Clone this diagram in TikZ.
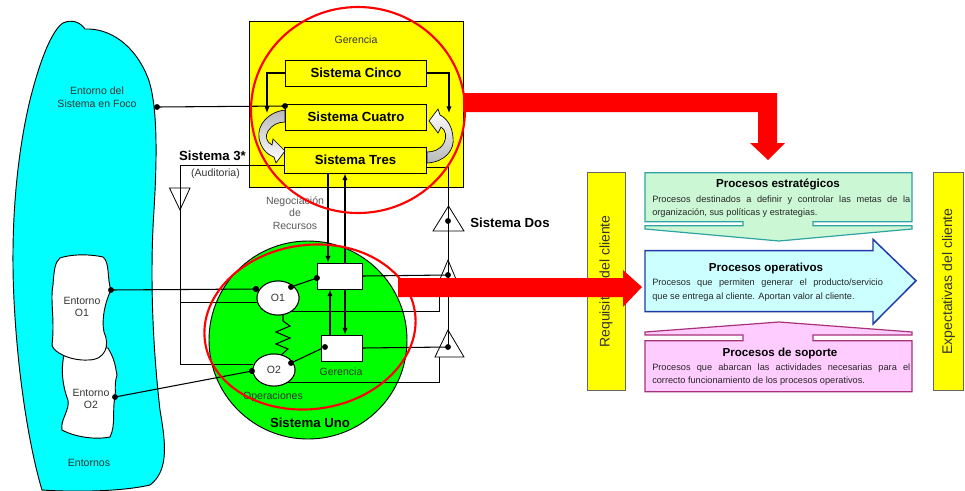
\documentclass[tikz,border=0pt]{standalone}
\usepackage{fontspec}
\setmainfont{Liberation Sans}
\usetikzlibrary{arrows.meta,shapes.geometric,calc}

\definecolor{cyanblob}{HTML}{00FFFF}
\definecolor{ygerencia}{HTML}{FFFF00}
\definecolor{greenuno}{HTML}{00FF00}
\definecolor{redmark}{HTML}{FF0000}
\definecolor{estrfill}{HTML}{CCF7D4}
\definecolor{estrline}{HTML}{2FA3A3}
\definecolor{operfill}{HTML}{CCFFFF}
\definecolor{operline}{HTML}{2238A8}
\definecolor{soptfill}{HTML}{FFCCFF}
\definecolor{soptline}{HTML}{A8327A}
\definecolor{labelgray}{HTML}{333333}
\definecolor{barline}{HTML}{666666}

\tikzset{
  sysbox/.style={draw, fill=ygerencia, line width=0.7pt, minimum width=106pt,
    minimum height=19.5pt, inner sep=0pt, font=\fontsize{9.9}{11}\selectfont\bfseries},
  wbox/.style={draw, fill=white, line width=0.7pt, minimum height=19.5pt, inner sep=0pt},
  opell/.style={ellipse, draw, fill=white, line width=0.7pt, inner sep=0pt,
    font=\fontsize{7.9}{9}\selectfont, text=labelgray},
  dotn/.style={circle, fill=black, inner sep=0pt, minimum size=4.4pt},
  lbl/.style={font=\fontsize{7.9}{9.6}\selectfont, text=labelgray, inner sep=0pt, align=center},
  blbl/.style={font=\fontsize{9.9}{11}\selectfont\bfseries, inner sep=0pt},
  conn/.style={line width=0.8pt},
  fineline/.style={line width=0.6pt},
  arr/.style={conn, -{Latex[length=5pt,width=4pt]}},
  redline/.style={draw=redmark, line width=1.6pt},
  redarrow/.style={fill=redmark},
  ribbon/.style={draw, line width=0.5pt},
  body/.style={font=\fontsize{6.9}{8}\selectfont, text=black!85, inner sep=0pt, anchor=west},
  ptitle/.style={font=\fontsize{8.7}{10}\selectfont\bfseries, inner sep=0pt},
  bartext/.style={font=\fontsize{10.5}{12}\selectfont, text=black!80, inner sep=0pt, rotate=90},
}

\begin{document}
\begin{tikzpicture}[x=0.75pt,y=-0.75pt]
\useasboundingbox (0,0) rectangle (965,490);

% environment blob
\draw[fill=cyanblob, line width=0.7pt]
  (63,23) .. controls (72,19) and (80,22) .. (85,29)
  .. controls (110,28) and (135,45) .. (148,78)
  .. controls (158,105) and (157,160) .. (154,210)
  .. controls (150,270) and (152,340) .. (160,410)
  .. controls (165,440) and (170,470) .. (150,485)
  .. controls (120,492) and (70,492) .. (42,490)
  .. controls (30,450) and (18,380) .. (14,300)
  .. controls (10,220) and (18,150) .. (30,100)
  .. controls (40,60) and (52,30) .. (63,23) -- cycle;

% local environments
\draw[fill=white, line width=0.7pt]
  (66,348) .. controls (80,345) and (100,348) .. (108,348)
  .. controls (115,360) and (115,365) .. (117,375)
  .. controls (114,385) and (116,390) .. (115,397)
  .. controls (112,410) and (116,425) .. (110,437)
  .. controls (95,440) and (75,437) .. (62,430)
  .. controls (60,420) and (70,410) .. (68,400)
  .. controls (62,385) and (60,365) .. (66,348) -- cycle;
\draw[fill=white, line width=0.7pt]
  (60,258) .. controls (75,253) and (95,255) .. (103,257)
  .. controls (110,262) and (107,280) .. (111,290)
  .. controls (106,300) and (101,318) .. (104,332)
  .. controls (110,345) and (106,360) .. (88,360)
  .. controls (70,361) and (53,352) .. (52,345)
  .. controls (55,320) and (50,300) .. (53,285)
  .. controls (54,270) and (55,262) .. (60,258) -- cycle;

\node[lbl] (tfoco) at (97,97) {Entorno del\\Sistema en Foco};
\node[lbl] (te1) at (82,307) {Entorno\\O1};
\node[lbl] (te2) at (91,399) {Entorno\\O2};
\node[lbl] (tent) at (89,463) {Entornos};

% management box
\draw[fill=ygerencia, line width=0.7pt] (249,21) rectangle (463,187);
\node[lbl] (tger) at (356,40) {Gerencia};

% operations circle
\draw[fill=greenuno, line width=0.7pt] (308,340) circle [radius=99];

% systems boxes and operation units
\node[sysbox] (cinco) at (356,73) {Sistema Cinco};
\node[sysbox] (cuatro) at (356,117) {Sistema Cuatro};
\node[sysbox] (tres) at (355.5,160) {Sistema Tres};
\node[wbox, minimum width=33.75pt] (wb1) at (339.5,276) {};
\node[wbox, minimum width=30.75pt] (wb2) at (341.5,348) {};
\node[opell, minimum width=31.5pt, minimum height=25.5pt] (o1) at (278,298) {};
\node[opell, minimum width=31.5pt, minimum height=24pt] (o2) at (274,370) {};

% helper coordinates
\coordinate (c5l) at (267,113);
\coordinate (c5r) at (449,113);
\coordinate (s3top) at (180,165);
\coordinate (s3o1) at (180,302);
\coordinate (s3bot) at (180,364);
\coordinate (t2bl) at (439,291);
\coordinate (t3bl) at (439,357);
\coordinate (xa) at (328,0);
\coordinate (xb) at (345,0);
\coordinate (xc) at (330,0);

% dots
\node[dotn] (dfoco) at (157,107) {};
\node[dotn] (dcuatro) at (285,106) {};
\node[dotn] (de1) at (111,290) {};
\node[dotn] (do1l) at (256,289) {};
\node[dotn] (de2) at (115,397) {};
\node[dotn] (do2l) at (252,371) {};
\node[dotn] (do1r) at (291,287) {};
\node[dotn] (dwb1) at (317,278) {};
\node[dotn] (do2r) at (291,363) {};
\node[dotn] (dwb2) at (325,347) {};
\node[dotn] (ddos) at (448,221) {};
\node[dotn] (dt2) at (448,275) {};
\node[dotn] (dt3) at (448,347) {};

% connectors
\draw[conn] (dfoco.center) -- (dcuatro.center);
\draw[conn] (de1.center) -- (do1l.center);
\draw[conn] (de2.center) -- (do2l.center);
\draw[conn] (do1r.center) -- (dwb1.center);
\draw[conn] (do2r.center) -- (dwb2.center);
\draw[arr] (cinco.west) -| (c5l);
\draw[arr] (cinco.east) -| (c5r);

% Sistema 3* audit channel
\draw[fineline] (tres.west |- s3top) -- (s3top) -- (s3bot) -- (s3bot -| o2.west);
\draw[fineline] (s3o1) -- (s3o1 -| o1.west);
\draw[fineline] (169.5,188) -- (190,188) -- (180,210) -- cycle;

% Sistema Dos coordination channel
\draw[fineline] ($(tres.south east)+(0,-6)$) -| (dt3.center);
\draw[conn] (wb1.east) -- (dt2.center);
\draw[conn] (wb2.east) -- (dt3.center);
\draw[fineline] ($(o1.center)+(0,13)$) -| (t2bl);
\draw[fineline] ($(o2.center)+(0,12)$) -| (t3bl);
\draw[fineline] (433,231) -- (448.5,206) -- (464,231) -- cycle;
\draw[fineline] (435,291) -- (448,260) -- (461,291) -- cycle;
\draw[fineline] (435,357) -- (448,330) -- (464,357) -- cycle;

% resource bargaining
\draw[arr] (tres.south -| xa) -- (wb1.north -| xa);
\draw[arr] (wb1.north -| xb) -- (tres.south -| xb);
\draw[arr] (wb2.north -| xc) -- (wb1.south -| xc);
\draw[arr] (wb1.south -| xb) -- (wb2.north -| xb);

% units drawn again over their connectors
\node[wbox, minimum width=33.75pt] at (wb1) {};
\node[wbox, minimum width=30.75pt] at (wb2) {};
\node[opell, minimum width=31.5pt, minimum height=25.5pt] at (o1) {O1};
\node[opell, minimum width=31.5pt, minimum height=24pt] at (o2) {O2};
\node[dotn] at (do1l) {};
\node[dotn] at (do1r) {};
\node[dotn] at (do2l) {};
\node[dotn] at (do2r) {};
\node[dotn] at (dwb1) {};
\node[dotn] at (dwb2) {};

% spring between operations
\draw[conn] (283,315) -- (283,321) -- (290,326) -- (276,332) -- (290,338)
  -- (276,344) -- (288,349) -- (281,355);

% 3-4 homeostat ribbons
\path[ribbon, top color=gray!55, bottom color=white]
  (285,110) .. controls (268,112) and (257,125) .. (259,138)
  .. controls (261,148) and (266,154) .. (274,157)
  -- (276,163) -- (285,151) -- (273,139) -- (272,145)
  .. controls (266,142) and (265,136) .. (268,131)
  .. controls (272,125) and (278,122) .. (285,122) -- cycle;
\path[ribbon, top color=white, bottom color=gray!55]
  (427,163) .. controls (445,162) and (455,150) .. (453,137)
  .. controls (452,125) and (446,118) .. (440,115)
  -- (438,109) -- (429,121) -- (438,133) -- (441,127)
  .. controls (446,130) and (447,137) .. (444,143)
  .. controls (440,150) and (433,152) .. (427,152) -- cycle;

% labels
\node[blbl] (ts3) at (212.5,156) {Sistema 3*};
\node[lbl] (taud) at (215.5,174) {(Auditoria)};
\node[lbl, text=black!65] (tneg) at (295,213) {Negociación\\de\\Recursos};
\node[blbl] (tdos) at (510,223) {Sistema Dos};
\node[lbl] (tgop) at (341,372) {Gerencia};
\node[lbl] (topr) at (273,397) {Operaciones};
\node[blbl] (tuno) at (310,423) {Sistema Uno};

% red highlights
\draw[redline] (358,110) ellipse [x radius=107, y radius=103];
\draw[redline, rotate around={8:(310,327)}] (310,327) ellipse [x radius=106, y radius=82];
\fill[redarrow] (463,93) -- (777,93) -- (777,143) -- (785,143) -- (768,160)
  -- (750,143) -- (758,143) -- (758,112) -- (463,112) -- cycle;

% process map
\draw[draw=barline, fill=ygerencia, line width=0.6pt] (587,172) rectangle (625,390);
\draw[draw=barline, fill=ygerencia, line width=0.6pt] (933,172) rectangle (963,390);
\node[bartext] (treq) at (606,281.5) {Requisitos del cliente};
\node[bartext] (texp) at (948.5,281.5) {Expectativas del cliente};

\draw[draw=estrline, fill=estrfill, line width=0.9pt]
  (645,172.7) -- (912,172.7) -- (912,221.7) -- (813,221.7) -- (813,225.7)
  -- (912,225.7) -- (912,229) -- (779,241) -- (645,229) -- (645,225.7)
  -- (743,225.7) -- (743,221.7) -- (645,221.7) -- cycle;
\draw[draw=operline, fill=operfill, line width=1.1pt]
  (645,250.7) -- (873,250.7) -- (873,239.3) -- (916,280.7) -- (873,324)
  -- (873,311.7) -- (645,311.7) -- cycle;
\draw[draw=soptline, fill=soptfill, line width=0.9pt]
  (779,322) -- (912,332) -- (912,335) -- (813,335) -- (813,340.7)
  -- (912,340.7) -- (912,391.7) -- (645,391.7) -- (645,340.7) -- (743,340.7)
  -- (743,335) -- (645,335) -- (645,332) -- cycle;

\node[ptitle] (pestr) at (778,184) {Procesos estratégicos};
\node[body] (pestr1) at (652,200) {\makebox[193.5pt][s]{Procesos destinados a definir y controlar las metas de la}};
\node[body] (pestr2) at (652,213) {organización, sus políticas y estrategias.};
\node[ptitle] (poper) at (766,268) {Procesos operativos};
\node[body] (poper1) at (652,283) {\makebox[173pt][s]{Procesos que permiten generar el producto/servicio}};
\node[body] (poper2) at (652,297) {que se entrega al cliente. Aportan valor al cliente.};
\node[ptitle] (psop) at (780,353) {Procesos de soporte};
\node[body] (psop1) at (652,368) {\makebox[193.5pt][s]{Procesos que abarcan las actividades necesarias para el}};
\node[body] (psop2) at (652,381) {correcto funcionamiento de los procesos operativos.};

\fill[redarrow] (398,278) -- (623,278) -- (623,270) -- (642,287) -- (623,307)
  -- (623,297) -- (398,297) -- cycle;
\end{tikzpicture}
\end{document}
